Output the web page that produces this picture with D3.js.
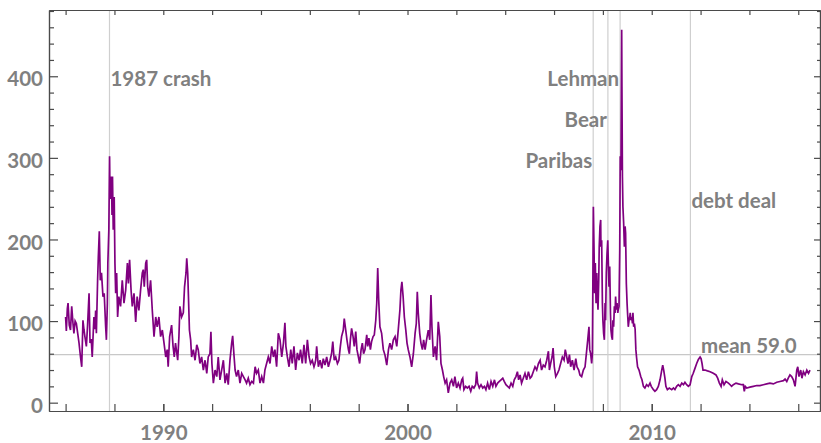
<!DOCTYPE html>
<html><head><meta charset="utf-8">
<script src="https://cdn.jsdelivr.net/npm/d3@7"></script>
<style>
html,body{margin:0;padding:0;background:#fff;}
svg{display:block;}
text{font-family:Lato,"Open Sans",sans-serif;font-weight:bold;fill:#808080;}
</style></head>
<body>
<svg id="chart" width="821" height="443"></svg>
<script>
// ---- data ----
const years = [
1986.00,1986.03,1986.07,1986.10,1986.15,1986.20,1986.25,1986.30,1986.34,1986.39,1986.44,1986.50,1986.55,1986.61,1986.66,1986.71,1986.75,1986.79,1986.85,1986.90,1986.96,
1987.00,1987.05,1987.09,1987.13,1987.16,1987.20,1987.23,1987.26,1987.31,1987.34,1987.38,1987.42,1987.47,1987.53,1987.58,1987.64,1987.67,1987.71,1987.73,1987.77,1987.80,1987.82,1987.84,1987.88,1987.90,1987.92,1987.95,1987.99,
1988.02,1988.05,1988.09,1988.13,1988.18,1988.25,1988.32,1988.39,1988.46,1988.53,1988.57,1988.62,1988.68,1988.73,1988.80,1988.87,1988.93,
1989.00,1989.07,1989.14,1989.18,1989.22,1989.28,1989.32,1989.36,1989.41,1989.48,1989.55,1989.62,1989.69,1989.75,1989.82,1989.89,1989.96,
1990.03,1990.10,1990.16,1990.20,1990.26,1990.34,1990.40,1990.45,1990.50,1990.59,1990.64,1990.68,1990.75,1990.82,1990.87,1990.93,1990.96,
1991.00,1991.03,1991.07,1991.12,1991.16,1991.23,1991.30,1991.37,1991.43,1991.50,1991.57,1991.64,1991.71,1991.78,1991.84,1991.91,1991.95,1991.99,
1992.05,1992.12,1992.19,1992.25,1992.32,1992.39,1992.46,1992.53,1992.60,1992.66,1992.73,1992.80,1992.84,1992.90,1992.94,
1993.00,1993.07,1993.14,1993.21,1993.28,1993.35,1993.41,1993.48,1993.55,1993.62,1993.69,1993.76,1993.82,1993.89,1993.96,
1994.03,1994.10,1994.16,1994.23,1994.30,1994.37,1994.44,1994.51,1994.57,1994.64,1994.71,1994.78,1994.85,1994.92,1994.98,
1995.02,1995.08,1995.15,1995.22,1995.28,1995.35,1995.42,1995.49,1995.56,1995.62,1995.69,1995.76,1995.83,1995.90,1995.97,
1996.03,1996.10,1996.17,1996.21,1996.24,1996.28,1996.35,1996.42,1996.49,1996.55,1996.62,1996.69,1996.76,1996.83,1996.89,1996.94,
1997.00,1997.06,1997.13,1997.19,1997.25,1997.30,1997.37,1997.41,1997.47,1997.52,1997.58,1997.62,1997.66,1997.71,1997.77,1997.82,1997.88,1997.93,1997.99,
1998.04,1998.10,1998.15,1998.20,1998.26,1998.33,1998.37,1998.42,1998.48,1998.53,1998.59,1998.64,1998.70,1998.74,1998.78,1998.82,1998.87,1998.94,
1999.01,1999.08,1999.15,1999.22,1999.28,1999.35,1999.42,1999.49,1999.56,1999.62,1999.69,1999.73,1999.77,1999.82,1999.87,1999.93,1999.98,
2000.03,2000.10,2000.17,2000.24,2000.31,2000.36,2000.40,2000.44,2000.50,2000.55,2000.61,2000.66,2000.72,2000.78,2000.85,2000.91,2000.96,
2001.00,2001.06,2001.13,2001.19,2001.26,2001.32,2001.37,2001.43,2001.48,2001.54,2001.60,2001.67,2001.74,2001.81,2001.88,2001.94,
2002.01,2002.08,2002.15,2002.22,2002.26,2002.31,2002.38,2002.45,2002.52,2002.59,2002.65,2002.72,2002.79,2002.83,2002.87,2002.94,
2003.01,2003.08,2003.15,2003.21,2003.28,2003.35,2003.42,2003.49,2003.56,2003.62,2003.69,2003.76,2003.83,2003.90,2003.96,
2004.03,2004.10,2004.17,2004.24,2004.31,2004.37,2004.44,2004.50,2004.55,2004.61,2004.67,2004.74,2004.81,2004.88,2004.95,
2005.02,2005.08,2005.15,2005.22,2005.29,2005.36,2005.43,2005.49,2005.56,2005.63,2005.70,2005.77,2005.81,2005.86,2005.92,2005.96,
2006.01,2006.07,2006.14,2006.20,2006.27,2006.34,2006.41,2006.46,2006.52,2006.57,2006.63,2006.68,2006.75,2006.82,2006.89,2006.94,
2007.01,2007.06,2007.13,2007.20,2007.27,2007.34,2007.38,2007.43,2007.46,2007.50,2007.54,2007.57,2007.61,2007.64,2007.66,2007.69,2007.72,2007.75,2007.77,2007.80,2007.83,2007.85,2007.88,2007.91,2007.92,2007.95,2007.98,
2008.00,2008.03,2008.06,2008.09,2008.11,2008.14,2008.17,2008.20,2008.22,2008.25,2008.28,2008.31,2008.33,2008.36,2008.39,2008.41,2008.44,2008.47,2008.50,2008.52,2008.55,2008.58,2008.61,2008.63,2008.66,2008.69,2008.71,2008.74,2008.77,2008.78,2008.80,2008.82,2008.85,2008.88,2008.91,2008.93,2008.96,2008.99,
2009.01,2009.04,2009.07,2009.10,2009.12,2009.15,2009.18,2009.21,2009.23,2009.26,2009.29,2009.32,2009.35,2009.38,2009.42,2009.48,2009.55,2009.60,2009.66,2009.72,2009.79,2009.86,2009.93,2009.98,
2010.07,2010.13,2010.20,2010.27,2010.34,2010.41,2010.45,2010.49,2010.54,2010.58,2010.64,2010.72,2010.82,2010.89,2010.95,
2011.02,2011.09,2011.16,2011.23,2011.30,2011.36,2011.43,2011.50,2011.57,2011.64,2011.70,2011.77,2011.84,2011.91,2011.98,
2012.02,2012.06,2012.10,2012.18,2012.28,2012.39,2012.52,2012.63,2012.70,2012.77,2012.84,2012.89,2012.96,
2013.04,2013.14,2013.21,2013.27,2013.34,2013.45,2013.55,2013.68,2013.75,2013.79,2013.83,2013.89,
2014.02,2014.16,2014.30,2014.43,2014.57,2014.71,2014.84,2014.98,
2015.12,2015.25,2015.39,2015.46,2015.53,2015.59,2015.66,2015.73,2015.80,2015.87,2015.94,2015.98,
2016.03,2016.10,2016.15,2016.21,2016.28,2016.35,2016.42,2016.48
];
const values = [
105,88,115,122,95,89,118,98,85,100,97,84,73,56,44,101,90,81,69,95,134,
73,78,56,85,105,90,113,85,150,179,210,150,159,130,134,93,77,122,171,212,302,250,252,277,230,277,212,252,
171,134,159,105,130,118,150,122,138,171,146,175,138,118,134,99,130,
113,138,159,163,142,171,175,142,130,150,113,81,105,93,105,81,89,
73,56,65,44,81,95,69,56,73,52,81,118,105,110,142,159,177,
159,130,89,77,56,65,52,71,65,48,56,40,52,36,56,60,87,48,
24,40,32,56,28,40,52,24,36,22,52,73,82,56,40,
32,40,24,36,32,28,24,30,22,26,24,44,36,40,24,
32,24,40,48,56,48,69,56,65,44,85,77,56,73,98,
69,56,44,65,48,69,40,61,52,65,48,71,48,77,56,
48,52,44,48,52,69,44,52,42,54,46,56,44,52,60,75,
52,56,48,52,69,81,89,103,89,77,65,60,77,91,81,69,87,65,56,
48,65,73,60,65,83,69,79,65,75,81,83,101,122,165,126,93,85,
65,58,46,65,73,65,77,81,69,89,114,138,148,130,105,89,73,
65,56,44,60,85,97,136,110,85,73,65,77,65,77,89,77,132,
93,56,69,52,99,81,48,40,32,24,28,12,24,28,20,32,
18,24,18,28,30,16,20,18,20,14,20,18,22,38,24,18,
22,18,20,16,24,16,26,20,28,20,24,26,28,30,26,
22,20,18,24,20,28,32,38,28,34,24,30,36,28,38,
30,32,38,44,40,48,52,40,46,44,52,63,40,48,56,67,
44,32,36,40,48,56,52,65,56,48,59,44,52,40,54,44,
40,34,32,40,44,65,77,93,65,60,48,60,240,183,134,171,122,159,134,114,150,191,216,224,191,199,122,
101,85,77,122,101,159,183,199,175,142,167,110,89,81,77,101,93,118,110,130,114,122,110,114,118,187,302,285,457,387,277,240,220,191,216,208,146,122,
110,93,101,105,110,101,105,97,110,93,97,90,65,55,44,40,32,28,20,18,22,20,24,20,
16,14,16,20,28,40,46,40,30,20,16,18,16,18,16,
20,22,20,24,22,25,22,20,22,32,36,42,48,53,56,
54,48,40,40,39,38,36,34,30,24,20,28,22,
26,24,22,20,22,24,23,22,22,14,20,18,
19,20,21,21,22,23,24,23,
25,26,27,29,26,30,34,32,28,20,40,44,
32,40,30,38,34,40,36,40
];
const meanValue = 59.0;
const events = [
  {name:"1987 crash", year:1987.797, labelValue:400, side:"right"},
  {name:"Paribas",    year:2007.603, labelValue:300, side:"left"},
  {name:"Bear",       year:2008.205, labelValue:350, side:"left"},
  {name:"Lehman",     year:2008.705, labelValue:400, side:"left"},
  {name:"debt deal",  year:2011.584, labelValue:250, side:"right"}
];
const yMajorTicks = [0,100,200,300,400];
const xLabelTicks = [1990,2000,2010];

// ---- drawing ----
const svg = d3.select("#chart");
const L=49, R=820, T=10, B=411;
const FS = "20.5px";
const x = d3.scaleLinear().domain([1985.32,2016.89]).range([L,R]);
const y = d3.scaleLinear().domain([-10.2,481.2]).range([B,T]);
const data = years.map((t,i)=>({t, v:values[i]}));

const frameColor = "#4a4a4a";

// reference lines
svg.append("line").attr("x1",L).attr("x2",R).attr("y1",y(meanValue)).attr("y2",y(meanValue))
  .attr("stroke","#c8c8c8").attr("stroke-width",1.2);
svg.selectAll("line.ev").data(events).join("line").attr("class","ev")
  .attr("x1",d=>x(d.year)).attr("x2",d=>x(d.year)).attr("y1",T).attr("y2",B)
  .attr("stroke","#cfcfcf").attr("stroke-width",1.2);

// series
svg.append("path").datum(data)
  .attr("fill","none").attr("stroke","#800080").attr("stroke-width",1.7)
  .attr("stroke-linejoin","miter")
  .attr("d", d3.line().x(d=>x(d.t)).y(d=>y(d.v)));

// axes (ticks inward, Mathematica-like frame)
const yMinor = d3.range(0, 481, 20).filter(v=>v%100!==0);
const xTicks = d3.range(1986, 2017, 2);

function styleAxis(g){
  g.select(".domain").attr("stroke",frameColor).attr("stroke-width",1.2);
  g.selectAll(".tick line").attr("stroke",frameColor).attr("stroke-width",1.2);
}
// left
svg.append("g").attr("transform",`translate(${L},0)`)
  .call(d3.axisLeft(y).tickValues(yMinor).tickSize(-5).tickFormat("").tickSizeOuter(0)).call(styleAxis);
const gl = svg.append("g").attr("transform",`translate(${L},0)`)
  .call(d3.axisLeft(y).tickValues(yMajorTicks).tickSize(-9).tickPadding(6).tickSizeOuter(0)).call(styleAxis);
gl.selectAll(".tick text").attr("font-size",FS).attr("font-family","Lato").attr("font-weight","bold")
  .attr("fill","#808080").attr("dy",null).attr("y",9.7);
// right
svg.append("g").attr("transform",`translate(${R},0)`)
  .call(d3.axisRight(y).tickValues(yMinor).tickSize(-3).tickFormat("").tickSizeOuter(0)).call(styleAxis);
svg.append("g").attr("transform",`translate(${R},0)`)
  .call(d3.axisRight(y).tickValues(yMajorTicks).tickSize(-6).tickFormat("").tickSizeOuter(0)).call(styleAxis);
// bottom
svg.append("g").attr("transform",`translate(0,${B})`)
  .call(d3.axisBottom(x).tickValues(xTicks).tickSize(-7).tickFormat("").tickSizeOuter(0)).call(styleAxis);
const gb = svg.append("g").attr("transform",`translate(0,${B})`)
  .call(d3.axisBottom(x).tickValues(xLabelTicks).tickSize(-7).tickFormat(d3.format("d")).tickSizeOuter(0)).call(styleAxis);
gb.selectAll(".tick text").attr("font-size",FS).attr("font-family","Lato").attr("font-weight","bold")
  .attr("fill","#808080").attr("dy",null).attr("y",28.5);
// top
svg.append("g").attr("transform",`translate(0,${T})`)
  .call(d3.axisTop(x).tickValues(xTicks).tickSize(-5).tickFormat("").tickSizeOuter(0)).call(styleAxis);

// event labels
svg.selectAll("text.evl").data(events).join("text").attr("class","evl")
  .attr("x",d=>x(d.year) + (d.side==="right"?1:-1))
  .attr("y",d=>y(d.labelValue)+9.7)
  .attr("text-anchor",d=>d.side==="right"?"start":"end")
  .attr("font-size",FS)
  .text(d=>d.name);
svg.append("text").attr("x",x(2012.02)).attr("y",y(meanValue)-1.5)
  .attr("font-size",FS).text("mean " + meanValue.toFixed(1));
</script>
</body></html>
